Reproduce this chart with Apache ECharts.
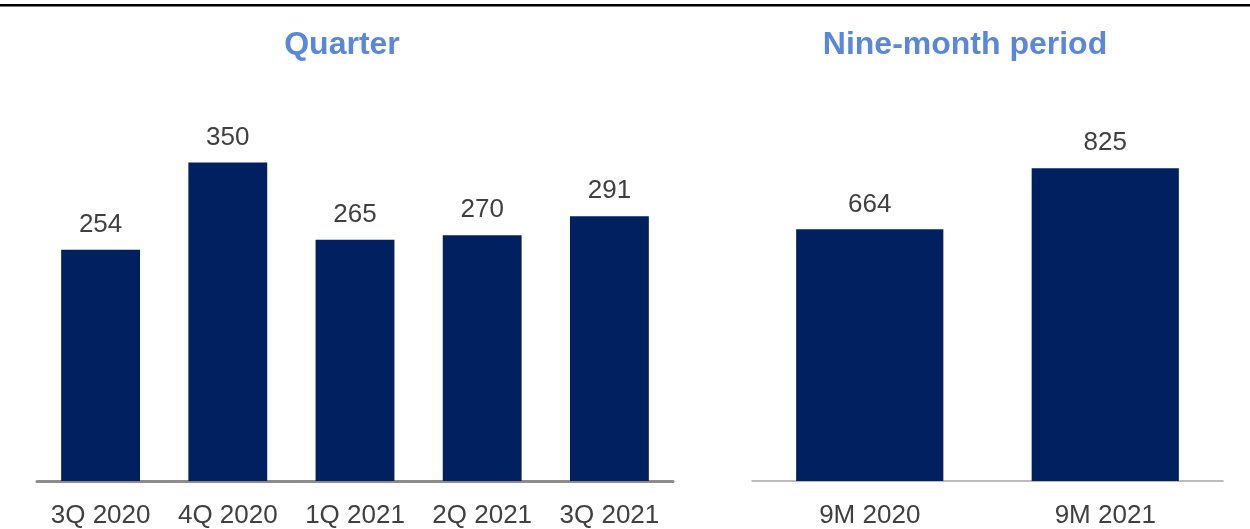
<!DOCTYPE html>
<html>
<head>
<meta charset="utf-8">
<script src="https://cdn.jsdelivr.net/npm/echarts@6/dist/echarts.min.js"></script>
<style>
  html, body { margin: 0; padding: 0; background: #fff; }
  #chart { width: 1250px; height: 529px; }
</style>
</head>
<body>
<div id="chart"></div>
<script>
// Quarterly values
const quarterCategories = ['3Q 2020', '4Q 2020', '1Q 2021', '2Q 2021', '3Q 2021'];
const quarterValues = [254, 350, 265, 270, 291];

// Nine-month cumulative values
const periodCategories = ['9M 2020', '9M 2021'];
const periodValues = [664, 825];

const FONT = '"Liberation Sans", Arial, sans-serif';
const BAR_COLOR = '#002060';
const TEXT_COLOR = '#404040';
const TITLE_COLOR = '#5B87DA';

const chart = echarts.init(document.getElementById('chart'), null, { renderer: 'canvas' });

const valueLabel = {
  show: true,
  position: 'top',
  distance: 12,
  fontFamily: FONT,
  fontSize: 26,
  color: TEXT_COLOR
};

const categoryAxis = (gridIndex, data, lineWidth, lineColor) => ({
  type: 'category',
  gridIndex,
  data,
  axisLine: { show: true, lineStyle: { color: lineColor, width: lineWidth } },
  axisTick: { show: false },
  axisLabel: {
    interval: 0,
    fontFamily: FONT,
    fontSize: 26,
    color: TEXT_COLOR,
    margin: 22
  }
});

const valueAxis = (gridIndex, max) => ({
  type: 'value',
  gridIndex,
  min: 0,
  max,
  show: false,
  splitLine: { show: false }
});

chart.setOption({
  animation: false,
  backgroundColor: '#ffffff',
  title: [
    {
      text: 'Quarter',
      left: 337, top: 24, textAlign: 'center',
      textStyle: { fontFamily: FONT, fontSize: 32, fontWeight: 'bold', color: TITLE_COLOR }
    },
    {
      text: 'Nine-month period',
      left: 960, top: 24, textAlign: 'center',
      textStyle: { fontFamily: FONT, fontSize: 32, fontWeight: 'bold', color: TITLE_COLOR }
    }
  ],
  graphic: [
    {
      type: 'rect',
      shape: { x: 0, y: 4, width: 1250, height: 2.5 },
      style: { fill: '#000000' },
      silent: true
    }
  ],
  grid: [
    { left: 37, right: 577, top: 117, bottom: 43 },
    { left: 752, right: 27, top: 102, bottom: 43.5 }
  ],
  xAxis: [
    categoryAxis(0, quarterCategories, 3, '#8c8c8c'),
    categoryAxis(1, periodCategories, 1.5, '#a6a6a6')
  ],
  yAxis: [
    valueAxis(0, 400),
    valueAxis(1, 1000)
  ],
  series: [
    {
      type: 'bar',
      xAxisIndex: 0, yAxisIndex: 0,
      data: quarterValues,
      barWidth: '62%',
      itemStyle: { color: BAR_COLOR },
      label: valueLabel
    },
    {
      type: 'bar',
      xAxisIndex: 1, yAxisIndex: 1,
      data: periodValues,
      barWidth: '62.5%',
      itemStyle: { color: BAR_COLOR },
      label: valueLabel
    }
  ]
});
</script>
</body>
</html>
